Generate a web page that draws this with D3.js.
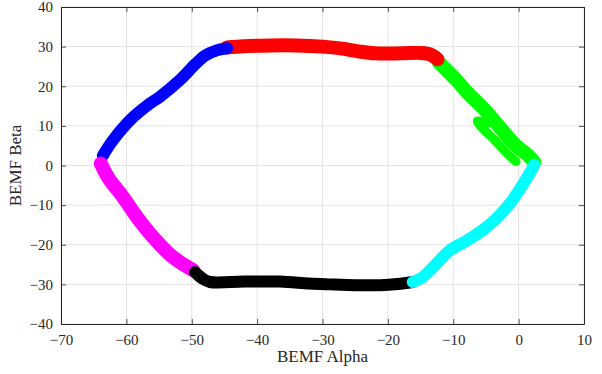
<!DOCTYPE html>
<html>
<head>
<meta charset="utf-8">
<script src="https://cdn.jsdelivr.net/npm/d3@7"></script>
<style>
  body { margin: 0; background: #fff; }
  text { font-family: "Liberation Serif", "Times New Roman", serif; fill: #262626; }
</style>
</head>
<body>
<div id="chart"></div>
<script>
// tick labels
var xTicks = [-70, -60, -50, -40, -30, -20, -10, 0, 10];
var yTicks = [-40, -30, -20, -10, 0, 10, 20, 30, 40];

// trajectory pieces [alpha, beta]
var blueSeg = [[-63.6, 2.5], [-62, 6.5], [-59.4, 11.5], [-56.5, 15.5], [-54.9, 17.3],
    [-51.8, 21.6], [-49.5, 25.5], [-48, 27.7], [-46.3, 29], [-44.6, 29.6]];
var redSeg = [[-44.6, 29.8], [-42, 30.1], [-38, 30.3], [-34, 30.3], [-30, 30.0],
    [-27, 29.5], [-24.5, 28.8], [-22, 28.3], [-18, 28.3], [-15, 28.4], [-13.5, 28.0], [-12.4, 26.8]];
var greenSeg = [[-12.2, 26], [-9.5, 21.5], [-7.5, 17.8], [-5.5, 14.6], [-4.2, 12.2],
    [-2.3, 8.5], [-0.4, 5], [1.4, 2.6], [2.4, 0.8]];
var greenBranch = [[-4.9, 10.6], [-6.3, 11.3], [-5.9, 10.1], [-3.6, 6.3], [-1.6, 2.8], [-0.4, 1]];
var cyanSeg = [[2.4, 0.2], [1.5, -2.5], [-1.3, -9.5], [-3.5, -13.5], [-5.5, -16.3],
    [-8, -19], [-10.5, -21.4], [-13.1, -25.7], [-14.8, -28.3], [-16.2, -29.4]];
var blackSeg = [[-49.5, -26.9], [-48.3, -28.6], [-47.2, -29.4], [-42, -29.3], [-36.5, -29.3],
    [-32, -29.8], [-28.9, -30.0], [-25, -30.2], [-21.2, -30.2], [-18.5, -29.9], [-16.2, -29.4]];
var magentaSeg = [[-63.9, 0.5], [-62.8, -3], [-60.5, -8.0], [-58.4, -13.0], [-55.9, -18.1],
    [-52.9, -23.1], [-49.8, -26.4]];

var width = 602, height = 374;
var margin = {top: 7, right: 18, bottom: 50, left: 61};
var w = width - margin.left - margin.right,
    h = height - margin.top - margin.bottom;

var svg = d3.select("#chart").append("svg")
    .attr("width", width)
    .attr("height", height);

var g = svg.append("g")
    .attr("transform", "translate(" + margin.left + "," + margin.top + ")");

var x = d3.scaleLinear().domain([-70, 10]).range([0, w]);
var y = d3.scaleLinear().domain([-40, 40]).range([h, 0]);

// grid
g.append("g").selectAll("line")
    .data(xTicks)
    .enter().append("line")
    .attr("x1", d => x(d)).attr("x2", d => x(d))
    .attr("y1", 0).attr("y2", h)
    .attr("stroke", "#e3e3e3").attr("stroke-width", 1);
g.append("g").selectAll("line")
    .data(yTicks)
    .enter().append("line")
    .attr("y1", d => y(d)).attr("y2", d => y(d))
    .attr("x1", 0).attr("x2", w)
    .attr("stroke", "#e3e3e3").attr("stroke-width", 1);

// trajectory
var line = d3.line()
    .x(d => x(d[0]))
    .y(d => y(d[1]))
    .curve(d3.curveCatmullRom);

var pieces = [
    {data: greenBranch, color: "#00ff00", width: 9},
    {data: greenSeg, color: "#00ff00", width: 14},
    {data: redSeg, color: "#ff0000", width: 14},
    {data: blueSeg, color: "#0000ff", width: 12},
    {data: magentaSeg, color: "#ff00ff", width: 14},
    {data: blackSeg, color: "#000000", width: 12},
    {data: cyanSeg, color: "#00ffff", width: 12}
];

g.selectAll(".seg")
    .data(pieces)
    .enter().append("path")
    .attr("class", "seg")
    .attr("d", d => line(d.data))
    .attr("fill", "none")
    .attr("stroke", d => d.color)
    .attr("stroke-width", d => d.width)
    .attr("stroke-linecap", "round")
    .attr("stroke-linejoin", "round");

// axes, MATLAB style with inward ticks and a box
var axisColor = "#262626";
var gx = g.append("g")
    .attr("transform", "translate(0," + h + ")")
    .call(d3.axisBottom(x).tickValues(xTicks).tickSize(-5).tickPadding(10).tickSizeOuter(0));
var gxTop = g.append("g")
    .call(d3.axisTop(x).tickValues(xTicks).tickSize(-5).tickFormat("").tickSizeOuter(0));
var gy = g.append("g")
    .call(d3.axisLeft(y).tickValues(yTicks).tickSize(-5).tickPadding(8).tickSizeOuter(0));
var gyRight = g.append("g")
    .attr("transform", "translate(" + w + ",0)")
    .call(d3.axisRight(y).tickValues(yTicks).tickSize(-5).tickFormat("").tickSizeOuter(0));

[gx, gxTop, gy, gyRight].forEach(function (a) {
    a.selectAll("path").attr("stroke", axisColor).attr("stroke-width", 1);
    a.selectAll("line").attr("stroke", axisColor).attr("stroke-width", 0.8);
    a.selectAll("text")
        .style("font-family", "'Liberation Serif', serif")
        .style("font-size", "15px")
        .attr("fill", axisColor);
});

// axis titles
g.append("text")
    .attr("x", w / 2)
    .attr("y", h + 38)
    .attr("text-anchor", "middle")
    .style("font-size", "17px")
    .text("BEMF Alpha");

g.append("text")
    .attr("transform", "translate(" + (-40) + "," + (h / 2) + ") rotate(-90)")
    .attr("text-anchor", "middle")
    .style("font-size", "17px")
    .text("BEMF Beta");
</script>
</body>
</html>
